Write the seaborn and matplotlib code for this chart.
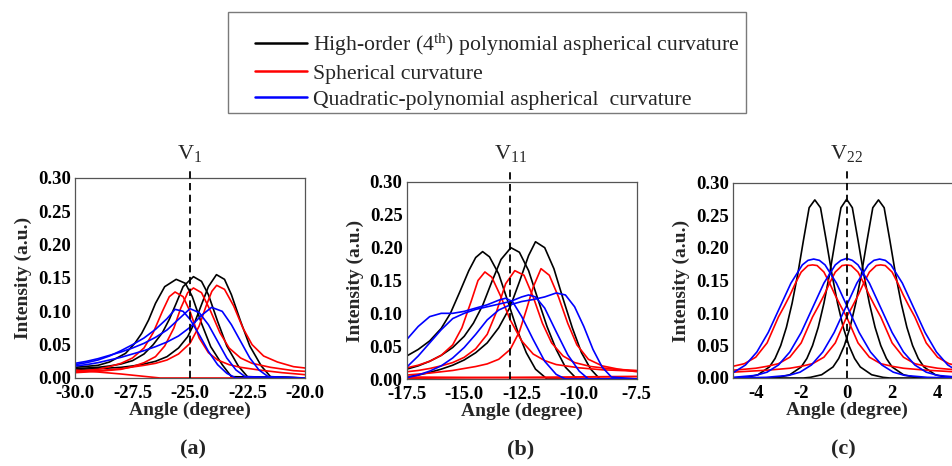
import numpy as np
import pandas as pd
import matplotlib
matplotlib.use("Agg")
import matplotlib.pyplot as plt
import matplotlib.transforms as mtrans
from matplotlib.lines import Line2D
from matplotlib.patches import Rectangle
from matplotlib.ticker import MultipleLocator, FormatStrFormatter
import seaborn as sns

sns.set_style("white")
plt.rcParams.update({
    "font.family": ["Liberation Serif", "DejaVu Serif"],
    "font.weight": "bold",
    "mathtext.fontset": "custom",
    "mathtext.rm": "Liberation Serif:weight=normal",
    "mathtext.it": "Liberation Serif:italic:weight=normal",
    "mathtext.bf": "Liberation Serif:weight=bold",
    "axes.unicode_minus": False,
})

# ---------------- data ----------------
SERIES_LABELS = ["High-order (4$^{\\rm th}$) polynomial aspherical curvature",
                 "Spherical curvature",
                 "Quadratic-polynomial aspherical  curvature"]
FAMILIES = ["high", "sph", "quad"]
COLORS = {"high": "#000000", "sph": "#ff0000", "quad": "#0000ff"}
PANEL_TAGS = ["(a)", "(b)", "(c)"]
ORDER_TITLES = ["V$_{1}$", "V$_{11}$", "V$_{22}$"]
ORDER_ANGLES = [-25.0, -13.0, 0.0]

# Panel (a)
A_K1_X = [-30, -29, -28.5, -27.8, -27.4, -27.1, -26.8, -26.5, -26.1, -25.6, -25.2, -24.9, -24.5, -24.1, -23.6, -23.2, -20]
A_K1_Y = [0.016, 0.019, 0.024, 0.037, 0.052, 0.067, 0.087, 0.112, 0.137, 0.148, 0.142, 0.122, 0.082, 0.047, 0.020, 0.002, 0.0]
A_K2_X = [-30, -29, -28.5, -28, -27.5, -27, -26.6, -26.2, -25.9, -25.6, -25.3, -24.85, -24.5, -24.2, -23.8, -23.4, -22.9, -22.5, -20]
A_K2_Y = [0.014, 0.016, 0.018, 0.021, 0.026, 0.036, 0.050, 0.068, 0.088, 0.112, 0.137, 0.152, 0.145, 0.125, 0.085, 0.048, 0.018, 0.002, 0.0]
A_K3_X = [-30, -29, -28, -27.5, -27, -26.5, -26, -25.5, -25.1, -24.8, -24.5, -24.2, -23.85, -23.5, -23.2, -22.8, -22.4, -21.9, -21.5, -20]
A_K3_Y = [0.013, 0.014, 0.016, 0.018, 0.021, 0.025, 0.032, 0.045, 0.062, 0.083, 0.110, 0.137, 0.155, 0.148, 0.125, 0.085, 0.048, 0.018, 0.002, 0.0]
A_S1_X = [-30, -29, -28.5, -28, -27.5, -27, -26.6, -26.2, -25.9, -25.65, -25.3, -25, -24.6, -24.2, -23.8, -23.3, -22.8, -22, -21, -20]
A_S1_Y = [0.010, 0.013, 0.017, 0.022, 0.030, 0.045, 0.068, 0.100, 0.122, 0.129, 0.122, 0.100, 0.060, 0.038, 0.027, 0.020, 0.016, 0.012, 0.008, 0.005]
A_S2_X = [-30, -29, -28, -27.5, -27, -26.5, -26.1, -25.7, -25.4, -25.1, -24.85, -24.5, -24.1, -23.7, -23.3, -22.8, -22.3, -21.5, -20.5, -20]
A_S2_Y = [0.008, 0.010, 0.013, 0.017, 0.023, 0.032, 0.048, 0.075, 0.105, 0.128, 0.135, 0.128, 0.100, 0.068, 0.045, 0.030, 0.022, 0.016, 0.011, 0.010]
A_S3_X = [-30, -29, -28, -27, -26.5, -26, -25.5, -25, -24.6, -24.3, -24.05, -23.84, -23.5, -23.1, -22.7, -22.3, -21.8, -21.2, -20.5, -20]
A_S3_Y = [0.009, 0.011, 0.014, 0.019, 0.022, 0.027, 0.036, 0.052, 0.078, 0.108, 0.130, 0.139, 0.133, 0.108, 0.075, 0.050, 0.033, 0.024, 0.017, 0.015]
A_S4_X = [-30, -28, -26.3, -20]
A_S4_Y = [0.012, 0.006, 0.0, 0.0]
A_Q1_X = [-30, -29.5, -29, -28.5, -28, -27.5, -27, -26.5, -26, -25.65, -25.3, -25, -24.6, -24.2, -23.8, -23.4, -23, -20]
A_Q1_Y = [0.020, 0.023, 0.027, 0.033, 0.041, 0.050, 0.060, 0.073, 0.089, 0.103, 0.100, 0.088, 0.065, 0.040, 0.020, 0.007, 0.0, 0.0]
A_Q2_X = [-30, -29.5, -29, -28.5, -28, -27.5, -27, -26.5, -26, -25.5, -25, -24.6, -24.2, -23.8, -23.4, -23, -22.6, -20]
A_Q2_Y = [0.022, 0.025, 0.029, 0.034, 0.039, 0.045, 0.052, 0.061, 0.072, 0.088, 0.104, 0.098, 0.080, 0.055, 0.030, 0.012, 0.002, 0.0]
A_Q3_X = [-30, -29.5, -29, -28.5, -28, -27.5, -27, -26.5, -26, -25.5, -25, -24.5, -24.06, -23.6, -23.2, -22.8, -22.4, -22, -21.6, -20]
A_Q3_Y = [0.018, 0.020, 0.023, 0.027, 0.031, 0.036, 0.041, 0.047, 0.054, 0.063, 0.076, 0.094, 0.106, 0.100, 0.080, 0.055, 0.030, 0.012, 0.002, 0.0]

# Panel (b)
B_K1_X = [-17.5, -17, -16.5, -16, -15.6, -15.2, -14.8, -14.5, -14.2, -13.9, -13.5, -13.1, -12.7, -12.3, -11.9, -11.4, -7.5]
B_K1_Y = [0.035, 0.045, 0.058, 0.077, 0.100, 0.132, 0.165, 0.185, 0.194, 0.186, 0.160, 0.118, 0.075, 0.040, 0.015, 0.0, 0.0]
B_K2_X = [-17.5, -17, -16.5, -16, -15.5, -15, -14.6, -14.2, -13.8, -13.4, -12.97, -12.6, -12.2, -11.8, -11.4, -11, -10.6, -10.1, -7.5]
B_K2_Y = [0.015, 0.020, 0.027, 0.036, 0.048, 0.065, 0.085, 0.112, 0.148, 0.182, 0.200, 0.193, 0.165, 0.122, 0.080, 0.045, 0.018, 0.0, 0.0]
B_K3_X = [-17.5, -17, -16.5, -16, -15.5, -15, -14.5, -14, -13.5, -13, -12.6, -12.2, -11.9, -11.5, -11.1, -10.7, -10.3, -9.9, -9.5, -9.1, -7.5]
B_K3_Y = [0.003, 0.006, 0.010, 0.015, 0.021, 0.029, 0.040, 0.055, 0.078, 0.110, 0.148, 0.188, 0.209, 0.200, 0.168, 0.122, 0.078, 0.040, 0.015, 0.0, 0.0]
B_S1_X = [-17.5, -17, -16.5, -16, -15.5, -15.1, -14.7, -14.4, -14.1, -13.8, -13.4, -13, -12.5, -12, -11.5, -11, -10, -9, -7.5]
B_S1_Y = [0.017, 0.021, 0.027, 0.036, 0.052, 0.078, 0.118, 0.150, 0.163, 0.155, 0.125, 0.090, 0.058, 0.038, 0.028, 0.022, 0.017, 0.014, 0.012]
B_S2_X = [-17.5, -17, -16.5, -16, -15.5, -15, -14.5, -14, -13.6, -13.2, -12.8, -12.4, -12, -11.6, -11.2, -10.7, -10.2, -9.5, -8.5, -7.5]
B_S2_Y = [0.011, 0.013, 0.016, 0.020, 0.025, 0.033, 0.046, 0.068, 0.102, 0.145, 0.165, 0.158, 0.125, 0.085, 0.055, 0.035, 0.025, 0.019, 0.015, 0.013]
B_S3_X = [-17.5, -16.5, -16, -15.5, -15, -14.5, -14, -13.5, -13, -12.6, -12.3, -12, -11.66, -11.3, -10.9, -10.5, -10.1, -9.6, -9, -8.3, -7.5]
B_S3_Y = [0.006, 0.009, 0.011, 0.013, 0.016, 0.019, 0.023, 0.030, 0.045, 0.072, 0.105, 0.140, 0.168, 0.158, 0.125, 0.085, 0.052, 0.030, 0.020, 0.015, 0.011]
B_S4_X = [-17.5, -7.5]
B_S4_Y = [0.003, 0.001]
B_S5_X = [-17.5, -7.5]
B_S5_Y = [0.001, 0.004]
B_Q1_X = [-17.5, -17, -16.5, -16, -15.5, -15, -14.5, -14, -13.5, -13.2, -12.9, -12.5, -12, -11.5, -11, -10.6, -7.5]
B_Q1_Y = [0.060, 0.080, 0.095, 0.100, 0.100, 0.103, 0.108, 0.113, 0.120, 0.123, 0.118, 0.095, 0.060, 0.027, 0.007, 0.0, 0.0]
B_Q2_X = [-17.5, -17, -16.5, -16, -15.5, -15, -14.5, -14, -13.5, -13, -12.5, -12.2, -11.9, -11.5, -11, -10.5, -10, -9.6, -7.5]
B_Q2_Y = [0.018, 0.035, 0.055, 0.075, 0.092, 0.100, 0.106, 0.110, 0.114, 0.118, 0.125, 0.128, 0.125, 0.108, 0.072, 0.037, 0.012, 0.0, 0.0]
B_Q3_X = [-17.5, -17, -16.5, -16, -15.5, -15, -14.5, -14, -13.5, -13, -12.5, -12, -11.5, -11, -10.6, -10.2, -9.8, -9.4, -9, -8.6, -7.5]
B_Q3_Y = [0.002, 0.006, 0.012, 0.020, 0.032, 0.048, 0.068, 0.090, 0.105, 0.113, 0.118, 0.121, 0.125, 0.131, 0.128, 0.110, 0.080, 0.045, 0.018, 0.003, 0.0]

# Panel (c)
C_K1_X = [-5, -4.7, -4.4, -3.9, -3.4, -3.15, -2.9, -2.65, -2.4, -2.15, -1.9, -1.65, -1.4, -1.15, -0.9, -0.65, -0.4, -0.15, 0.1, 0.35, 0.6, 1.1, 1.6, 1.9, 5]
C_K1_Y = [0, 0, 0.001, 0.005, 0.017, 0.030, 0.050, 0.078, 0.115, 0.160, 0.212, 0.262, 0.274, 0.262, 0.212, 0.160, 0.115, 0.078, 0.050, 0.030, 0.017, 0.005, 0.001, 0, 0]
C_K2_X = [-5, -3.3, -3.0, -2.5, -2.0, -1.75, -1.5, -1.25, -1.0, -0.75, -0.5, -0.25, 0, 0.25, 0.5, 0.75, 1.0, 1.25, 1.5, 1.75, 2.0, 2.5, 3.0, 3.3, 5]
C_K2_Y = [0, 0, 0.001, 0.005, 0.017, 0.030, 0.050, 0.078, 0.115, 0.160, 0.212, 0.262, 0.275, 0.262, 0.212, 0.160, 0.115, 0.078, 0.050, 0.030, 0.017, 0.005, 0.001, 0, 0]
C_K3_X = [-5, -1.9, -1.6, -1.1, -0.6, -0.35, -0.1, 0.15, 0.4, 0.65, 0.9, 1.15, 1.4, 1.65, 1.9, 2.15, 2.4, 2.65, 2.9, 3.15, 3.4, 3.9, 4.4, 4.7, 5]
C_K3_Y = [0, 0, 0.001, 0.005, 0.017, 0.030, 0.050, 0.078, 0.115, 0.160, 0.212, 0.262, 0.274, 0.262, 0.212, 0.160, 0.115, 0.078, 0.050, 0.030, 0.017, 0.005, 0.001, 0, 0]
C_S1_X = [-5, -4.5, -4, -3.5, -3.25, -3, -2.75, -2.5, -2.25, -2, -1.7, -1.5, -1.3, -1, -0.75, -0.5, -0.25, 0, 0.25, 0.5, 1, 1.5, 2, 2.5, 3.5, 5]
C_S1_Y = [0.018, 0.022, 0.032, 0.054, 0.074, 0.094, 0.110, 0.127, 0.146, 0.163, 0.173, 0.174, 0.173, 0.163, 0.146, 0.127, 0.110, 0.094, 0.074, 0.054, 0.032, 0.022, 0.018, 0.015, 0.012, 0.009]
C_S2_X = [-5, -4, -3.5, -3, -2.5, -2, -1.75, -1.5, -1.25, -1, -0.75, -0.5, -0.2, 0, 0.2, 0.5, 0.75, 1, 1.25, 1.5, 1.75, 2, 2.5, 3, 3.5, 4, 5]
C_S2_Y = [0.012, 0.015, 0.018, 0.022, 0.032, 0.054, 0.074, 0.094, 0.110, 0.127, 0.146, 0.163, 0.173, 0.174, 0.173, 0.163, 0.146, 0.127, 0.110, 0.094, 0.074, 0.054, 0.032, 0.022, 0.018, 0.015, 0.012]
C_S3_X = [-5, -3.5, -2.5, -2, -1.5, -1, -0.5, -0.25, 0, 0.25, 0.5, 0.75, 1, 1.3, 1.5, 1.7, 2, 2.25, 2.5, 2.75, 3, 3.25, 3.5, 4, 4.5, 5]
C_S3_Y = [0.009, 0.012, 0.015, 0.018, 0.022, 0.032, 0.054, 0.074, 0.094, 0.110, 0.127, 0.146, 0.163, 0.173, 0.174, 0.173, 0.163, 0.146, 0.127, 0.110, 0.094, 0.074, 0.054, 0.032, 0.022, 0.018]
C_Q1_X = [-5, -4.45, -3.95, -3.45, -2.95, -2.45, -1.95, -1.7, -1.45, -1.2, -0.95, -0.45, 0.05, 0.55, 1.05, 1.55, 2.05, 2.55, 3.55, 5]
C_Q1_Y = [0.008, 0.020, 0.040, 0.070, 0.108, 0.146, 0.174, 0.181, 0.183, 0.181, 0.174, 0.146, 0.108, 0.070, 0.040, 0.020, 0.009, 0.004, 0.001, 0.0]
C_Q2_X = [-5, -4, -3.5, -3, -2.5, -2, -1.5, -1, -0.5, -0.25, 0, 0.25, 0.5, 1, 1.5, 2, 2.5, 3, 3.5, 4, 5]
C_Q2_Y = [0.001, 0.004, 0.009, 0.020, 0.040, 0.070, 0.108, 0.146, 0.174, 0.181, 0.184, 0.181, 0.174, 0.146, 0.108, 0.070, 0.040, 0.020, 0.009, 0.004, 0.001]
C_Q3_X = [-5, -3.55, -2.55, -2.05, -1.55, -1.05, -0.55, -0.05, 0.45, 0.95, 1.2, 1.45, 1.7, 1.95, 2.45, 2.95, 3.45, 3.95, 4.45, 5]
C_Q3_Y = [0.0, 0.001, 0.004, 0.009, 0.020, 0.040, 0.070, 0.108, 0.146, 0.174, 0.181, 0.183, 0.181, 0.174, 0.146, 0.108, 0.070, 0.040, 0.020, 0.008]

PANELS = [
    [("k1", "high", A_K1_X, A_K1_Y), ("k2", "high", A_K2_X, A_K2_Y), ("k3", "high", A_K3_X, A_K3_Y),
     ("s1", "sph", A_S1_X, A_S1_Y), ("s2", "sph", A_S2_X, A_S2_Y), ("s3", "sph", A_S3_X, A_S3_Y),
     ("s4", "sph", A_S4_X, A_S4_Y),
     ("q1", "quad", A_Q1_X, A_Q1_Y), ("q2", "quad", A_Q2_X, A_Q2_Y), ("q3", "quad", A_Q3_X, A_Q3_Y)],
    [("k1", "high", B_K1_X, B_K1_Y), ("k2", "high", B_K2_X, B_K2_Y), ("k3", "high", B_K3_X, B_K3_Y),
     ("s1", "sph", B_S1_X, B_S1_Y), ("s2", "sph", B_S2_X, B_S2_Y), ("s3", "sph", B_S3_X, B_S3_Y),
     ("s4", "sph", B_S4_X, B_S4_Y), ("s5", "sph", B_S5_X, B_S5_Y),
     ("q1", "quad", B_Q1_X, B_Q1_Y), ("q2", "quad", B_Q2_X, B_Q2_Y), ("q3", "quad", B_Q3_X, B_Q3_Y)],
    [("k1", "high", C_K1_X, C_K1_Y), ("k2", "high", C_K2_X, C_K2_Y), ("k3", "high", C_K3_X, C_K3_Y),
     ("s1", "sph", C_S1_X, C_S1_Y), ("s2", "sph", C_S2_X, C_S2_Y), ("s3", "sph", C_S3_X, C_S3_Y),
     ("q1", "quad", C_Q1_X, C_Q1_Y), ("q2", "quad", C_Q2_X, C_Q2_Y), ("q3", "quad", C_Q3_X, C_Q3_Y)],
]
XLIMS = [(-30, -20), (-17.5, -7.5), (-5, 5)]
XMAJOR = [2.5, 2.5, 2]
XMINOR = [1.25, 1.25, 1]
XFMT = ["%.1f", "%.1f", "%d"]

# ---------------- layout (pixels of a 952x466 figure) ----------------
W, H = 952, 466
AX_PIX = [(75, 178, 230, 200), (406.7, 182, 230, 197), (733, 183, 227.3, 195)]  # left, top, width, height
DASH_TOP = [168, 168, 170]
TAG_X = [193, 521, 843]

fig = plt.figure(figsize=(W / 100, H / 100), dpi=100)

for i, curves in enumerate(PANELS):
    l, t, w, h = AX_PIX[i]
    ax = fig.add_axes([l / W, 1 - (t + h) / H, w / W, h / H])
    frames = []
    for name, fam, xs, ys in curves:
        frames.append(pd.DataFrame({"x": xs, "y": ys, "family": fam, "curve": name}))
    df = pd.concat(frames, ignore_index=True)
    sns.lineplot(data=df, x="x", y="y", hue="family", units="curve", estimator=None,
                 sort=False, palette=COLORS, hue_order=FAMILIES, legend=False,
                 linewidth=1.2, ax=ax)
    ax.set_xlim(*XLIMS[i])
    ax.set_ylim(0, 0.30)
    ax.xaxis.set_major_locator(MultipleLocator(XMAJOR[i]))
    ax.xaxis.set_minor_locator(MultipleLocator(XMINOR[i]))
    ax.xaxis.set_major_formatter(FormatStrFormatter(XFMT[i]))
    ax.yaxis.set_major_locator(MultipleLocator(0.05))
    ax.yaxis.set_minor_locator(MultipleLocator(0.025))
    ax.yaxis.set_major_formatter(FormatStrFormatter("%.2f"))
    ax.tick_params(which="both", direction="in", top=False, right=False,
                   labelsize=13.5, colors="#000000")
    ax.tick_params(axis="y", which="both", pad=3)
    ax.tick_params(axis="x", which="both", pad=5)
    ax.tick_params(which="major", length=4, width=0.8, color="#555555")
    ax.tick_params(which="minor", length=2, width=0.7, color="#555555")
    for sp in ax.spines.values():
        sp.set_color("#555555")
        sp.set_linewidth(0.9)
    ax.set_xlabel("Angle (degree)", fontsize=14, fontweight="bold", labelpad=0)
    ax.set_ylabel("Intensity (a.u.)", fontsize=14, fontweight="bold", labelpad=4)
    # order marker (dashed line) and title
    ymax = (t + h - DASH_TOP[i]) / h
    ax.axvline(ORDER_ANGLES[i], ymin=0, ymax=ymax, color="black", lw=1.3,
               ls=(0, (4, 2.5)), clip_on=False, zorder=5)
    trans = mtrans.blended_transform_factory(ax.transData, fig.transFigure)
    ax.text(ORDER_ANGLES[i], 1 - 159 / H, ORDER_TITLES[i], transform=trans,
            ha="center", va="baseline", fontsize=16, fontweight="normal")
    fig.text(TAG_X[i] / W, 1 - 449 / H, PANEL_TAGS[i], ha="center", va="center",
             fontsize=16, fontweight="bold")

# legend box
fig.patches.append(Rectangle((228 / W, 1 - 113 / H), (746 - 228) / W, (113 - 12) / H,
                             transform=fig.transFigure, fill=False,
                             edgecolor="#7a7a7a", linewidth=1.0))
handles = [Line2D([0], [0], color=COLORS[f], lw=1.8) for f in FAMILIES]
fig.legend(handles, SERIES_LABELS, loc="upper left",
           bbox_to_anchor=(255 / W, 1 - 32 / H), frameon=False,
           prop={"family": "Liberation Serif", "weight": "normal", "size": 15.7},
           handlelength=2.4, handletextpad=0.25, labelspacing=0.25,
           borderpad=0, borderaxespad=0)

fig.savefig("out.png", dpi=100)
